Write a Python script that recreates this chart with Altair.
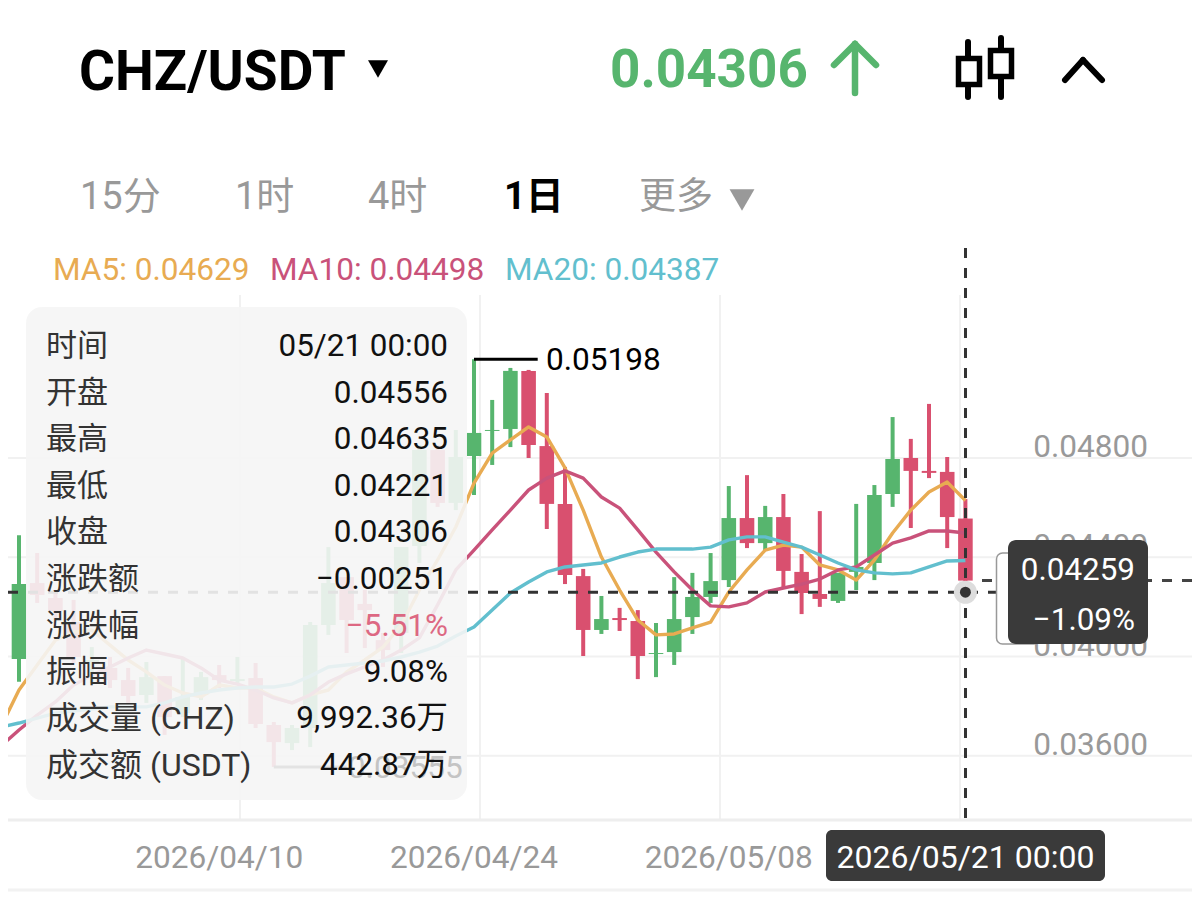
import altair as alt
import pandas as pd

# ---------- data (prices in 1e-5 USDT) ----------
days = list(range(-25, 28))
opens = [3990,4296,4236,4139,3970,3954,3905,3845,3921,3772,3845,3925,3901,3913,3724,3651,3712,4127,4320,4212,4066,4095,4445,4832,4619,
         4808,4909,4917,5151,4848,4615,4324,4107,4155,4143,4010,4018,4159,4240,4308,4558,4457,4562,4341,4252,4224,4341,4377,4655,4800,4748,4744,4556]
highs = [4489,4417,4268,4228,4038,3998,3954,3978,3921,3998,3938,3966,3998,3974,3736,3724,4139,4441,4320,4268,4095,4441,4852,4852,4913,
         5198,5034,5163,5155,5062,4764,4353,4244,4196,4187,4135,4320,4337,4417,4687,4731,4607,4655,4413,4586,4337,4615,4691,4965,4877,5018,4804,4635]
lows = [3898,4216,4147,3974,3893,3873,3813,3813,3684,3756,3825,3873,3889,3712,3555,3623,3635,4087,4014,4034,3958,4014,4377,4603,4590,
        4651,4772,4844,4800,4514,4292,4002,4091,4103,3909,3917,3966,4091,4216,4280,4437,4429,4276,4171,4200,4216,4268,4308,4603,4518,4719,4437,4221]
closes = [4292,4248,4183,3998,3986,3905,3841,3917,3756,3837,3917,3905,3909,3728,3655,3712,4127,4296,4147,4187,4026,4441,4832,4619,4804,
          4901,4913,5151,4852,4615,4328,4107,4151,4147,4002,4014,4151,4240,4304,4558,4457,4562,4345,4256,4232,4337,4361,4651,4796,4748,4740,4562,4306]
ma_days = list(range(-26, 28))
ma5 = [3716,3865,3966,4066,4099,4107,4046,3986,3938,3885,3853,3837,3885,3873,3873,3837,3813,3845,3865,3938,3986,4038,4127,4268,4389,4522,
       4699,4820,4873,4925,4885,4760,4590,4401,4268,4147,4087,4091,4115,4139,4260,4349,4429,4449,4441,4369,4349,4308,4389,4498,4590,4663,4703,4629]
ma10 = [3639,3704,3764,3817,3885,3925,3958,3994,4026,4010,3994,3954,3905,3889,3865,3833,3813,3845,3897,3930,3958,3986,4026,4075,4208,4349,
        4429,4510,4590,4671,4719,4748,4719,4643,4598,4510,4421,4341,4268,4204,4200,4216,4260,4276,4292,4312,4349,4361,4409,4457,4478,4506,4506,4498]
ma20 = [3716,3732,3752,3772,3780,3788,3797,3797,3797,3813,3837,3853,3865,3873,3877,3877,3889,3921,3958,3966,3974,3982,3998,4018,4042,4083,
        4119,4187,4256,4300,4341,4361,4369,4377,4401,4421,4433,4433,4433,4441,4470,4482,4482,4461,4441,4409,4377,4349,4337,4333,4337,4361,4385,4387]
y_ticks = [0.048, 0.044, 0.040, 0.036]
y_tick_labels = ["0.04800", "0.04400", "0.04000", "0.03600"]
x_tick_days = [-14, 0, 14]
x_tick_labels = ["2026/04/10", "2026/04/24", "2026/05/08"]
panel_labels = ["时间", "开盘", "最高", "最低", "收盘", "涨跌额", "涨跌幅", "振幅", "成交量 (CHZ)", "成交额 (USDT)"]
panel_values = ["05/21 00:00", "0.04556", "0.04635", "0.04221", "0.04306", "−0.00251", "−5.51%", "9.08%", "9,992.36万", "442.87万"]
high_price, low_price, cross_price, last_price = 0.05198, 0.03555, 0.04259, 0.04306

GREEN, RED = "#57b56e", "#d9506f"
ORANGE, PINK, TEAL = "#e8ab52", "#c9527a", "#62bfce"
GRAY, DARK, GRID = "#999999", "#3a3a3a", "#f1f1f1"
LATIN, CJK = "Roboto", "Noto Sans CJK SC"
FONT = f"{LATIN}, {CJK}"

W, H = 1184, 884
XS = alt.Scale(domain=[-25.604, 39.45], nice=False, zero=False, padding=0)
YS = alt.Scale(domain=[0.03051, 0.066135], nice=False, zero=False, padding=0)
X = alt.X("day:Q", axis=None, scale=XS)
Y = alt.Y("p:Q", axis=None, scale=YS)
one = pd.DataFrame({"a": [0]})


def px(v):  # page pixel -> plot pixel
    return v - 8


def text(s, x, y, size=31.6, color="#000000", align="left", weight="normal", opacity=1):
    return alt.Chart(one).mark_text(text=s, font=FONT, fontSize=size, color=color, align=align,
                                    baseline="middle", fontWeight=weight, opacity=opacity).encode(
        x=alt.value(px(x)), y=alt.value(px(y) + 2))


def seg(x1, y1, x2, y2, color, w, cap="butt", dash=None):
    kw = {"strokeDash": dash} if dash else {}
    return alt.Chart(one).mark_rule(color=color, strokeWidth=w, strokeCap=cap, **kw).encode(
        x=alt.value(px(x1)), x2=alt.value(px(x2)), y=alt.value(px(y1)), y2=alt.value(px(y2)))


def box(x1, y1, x2, y2, r=0, fill=None, opacity=1, stroke=None, sw=0):
    kw = {}
    if fill:
        kw["fill"] = fill
    else:
        kw["fillOpacity"] = 0
    if stroke:
        kw["stroke"] = stroke
        kw["strokeWidth"] = sw
    return alt.Chart(one).mark_rect(cornerRadius=r, opacity=opacity, **kw).encode(
        x=alt.value(px(x1)), x2=alt.value(px(x2)), y=alt.value(px(y1)), y2=alt.value(px(y2)))


def tri(x, y, size, color):
    return alt.Chart(one).mark_point(shape="triangle-down", filled=True, size=size, color=color, opacity=1).encode(
        x=alt.value(px(x)), y=alt.value(px(y)))


candles = pd.DataFrame({"day": days, "o": [v / 1e5 for v in opens], "h": [v / 1e5 for v in highs],
                        "l": [v / 1e5 for v in lows], "c": [v / 1e5 for v in closes]})
candles["dir"] = ["up" if c >= o else "down" for o, c in zip(opens, closes)]
col = alt.Color("dir:N", legend=None, scale=alt.Scale(domain=["up", "down"], range=[GREEN, RED]))
wicks = alt.Chart(candles).mark_rule(strokeWidth=4).encode(
    x=X, y=alt.Y("h:Q", axis=None, scale=YS), y2="l:Q", color=col)
bodies = alt.Chart(candles).mark_bar(size=14.6).encode(
    x=X, y=alt.Y("o:Q", axis=None, scale=YS), y2="c:Q", color=col)


def ma_line(vals, color):
    d = pd.DataFrame({"day": ma_days, "p": [v / 1e5 for v in vals]})
    return alt.Chart(d).mark_line(color=color, strokeWidth=3.4, clip=True, strokeJoin="round").encode(x=X, y=Y)


# grid
grid_h = alt.Chart(pd.DataFrame({"p": y_ticks})).mark_rule(color=GRID, strokeWidth=2).encode(
    y=Y, x=alt.value(0), x2=alt.value(W))
layers = [grid_h]
for gx in (240, 480, 720, 960):
    layers.append(seg(gx, 295, gx, 820, GRID, 2))
layers += [seg(8, 820, 1192, 820, "#eeeeee", 3), seg(8, 890, 1192, 890, "#f2f2f2", 3)]

# y tick labels
ytxt = alt.Chart(pd.DataFrame({"p": y_ticks, "t": y_tick_labels})).mark_text(
    font=FONT, fontSize=31.6, color=GRAY, align="right", baseline="middle", dy=-10).encode(
    y=Y, x=alt.value(px(1148)), text="t:N")
layers.append(ytxt)
# x tick labels
xtxt = alt.Chart(pd.DataFrame({"day": x_tick_days, "t": x_tick_labels})).mark_text(
    font=FONT, fontSize=31.6, color=GRAY, align="center", baseline="middle").encode(
    x=X, y=alt.value(px(859)), text="t:N")
layers.append(xtxt)

# price series
layers += [wicks, bodies, ma_line(ma5, ORANGE), ma_line(ma10, PINK), ma_line(ma20, TEAL)]

# high and low tags
hi = pd.DataFrame({"day": [0], "d2": [3.5], "p": [high_price], "t": ["0.05198"]})
layers.append(alt.Chart(hi).mark_rule(color="#000000", strokeWidth=3).encode(x=X, x2="d2:Q", y=Y))
layers.append(alt.Chart(hi).mark_text(font=FONT, fontSize=31.6, color="#000000", align="left", baseline="middle", dx=72, dy=2).encode(
    x=X, y=Y, text="t:N"))
lo = pd.DataFrame({"day": [-11], "d2": [-7], "p": [low_price], "t": ["0.03555"]})
layers.append(alt.Chart(lo).mark_rule(color="#444444", strokeWidth=3).encode(x=X, x2="d2:Q", y=Y))

# crosshair
cross = pd.DataFrame({"day": [27], "p": [cross_price]})
last = pd.DataFrame({"p": [last_price]})
layers.append(alt.Chart(cross).mark_rule(color="#333333", strokeWidth=3, strokeDash=[10, 10]).encode(
    y=Y, x=alt.value(0), x2=alt.value(px(1010))))
layers.append(alt.Chart(last).mark_rule(color="#444444", strokeWidth=3, strokeDash=[10, 10]).encode(
    y=Y, x=alt.value(px(982)), x2=alt.value(px(1192))))
layers.append(seg(965.5, 248, 965.5, 820, "#333333", 3, dash=[10, 10]))
layers.append(alt.Chart(cross).mark_point(filled=True, size=530, color="#dddddd", opacity=1).encode(x=X, y=Y))
layers.append(alt.Chart(cross).mark_point(filled=True, size=120, color="#333333", opacity=1).encode(x=X, y=Y))

# info panel
layers.append(box(26, 307, 467, 800, r=16, fill="#f5f5f5", opacity=0.9))
layers.append(alt.Chart(lo).mark_text(font=FONT, fontSize=31.6, color="#c4c4c4", align="left", baseline="middle", dx=74, dy=2).encode(
    x=X, y=Y, text="t:N"))
row_y = [345, 392, 438, 485, 531, 578, 625, 671, 717, 764]
for s, v, ry in zip(panel_labels, panel_values, row_y):
    layers.append(text(s, 46, ry, size=32 if "(" in s else 31, color="#333333"))
    layers.append(text(v, 448, ry, size=31.4, color=RED if v.startswith("−5") else "#111111", align="right",
                       opacity=0.85 if v.startswith("−5") else 1))

# crosshair price tag
layers.append(box(996.5, 553, 1040, 644, r=6, fill="#ffffff", stroke="#999999", sw=1.5))
layers.append(box(1008, 540, 1148, 644, r=8, fill=DARK))
layers.append(text("0.04259", 1135, 569, size=31.4, color="#ffffff", align="right"))
layers.append(text("−1.09%", 1135, 619, size=31.4, color="#ffffff", align="right"))
layers.append(box(826, 830, 1105, 881, r=6, fill=DARK))
layers.append(text("2026/05/21 00:00", 965.5, 856, size=32, color="#ffffff", align="center"))

# header
layers += [
    text("CHZ/USDT", 79, 71, size=55, weight="bold"),
    tri(378, 69, 400, "#000000"),
    text("0.04306", 610, 69, size=53, color=GREEN, weight="bold"),
    seg(855, 44, 855, 93, GREEN, 6.5, cap="round"),
    seg(855, 44, 834, 65, GREEN, 6.5, cap="round"),
    seg(855, 44, 876, 65, GREEN, 6.5, cap="round"),
    box(958.5, 58.5, 979.5, 84.5, fill=None, stroke="#000000", sw=5.5),
    seg(968, 42, 968, 58, "#000000", 6, cap="round"),
    seg(968, 85, 968, 97, "#000000", 6, cap="round"),
    box(990.5, 50.5, 1011.5, 76.5, fill=None, stroke="#000000", sw=5.5),
    seg(1001, 38, 1001, 50, "#000000", 6, cap="round"),
    seg(1001, 77, 1001, 97, "#000000", 6, cap="round"),
    seg(1065, 80, 1083, 60, "#000000", 6, cap="round"),
    seg(1083, 60, 1102, 80, "#000000", 6, cap="round"),
    text("15分", 80, 196, size=38, color=GRAY),
    text("1时", 235, 196, size=38, color=GRAY),
    text("4时", 368, 196, size=38, color=GRAY),
    text("1日", 504, 196, size=38, weight="bold"),
    text("更多", 639, 196, size=37, color=GRAY),
    tri(742, 200, 620, GRAY),
    text("MA5: 0.04629", 53, 269, size=31.6, color=ORANGE),
    text("MA10: 0.04498", 270, 269, size=31.6, color=PINK),
    text("MA20: 0.04387", 505, 269, size=31.6, color=TEAL),
]

chart = alt.layer(*layers).properties(
    width=W, height=H, padding=0, autosize=alt.AutoSizeParams(type="none"), background="#ffffff"
).configure_view(stroke=None)

chart.save("out.html", embed_options={"renderer": "svg", "actions": False})
